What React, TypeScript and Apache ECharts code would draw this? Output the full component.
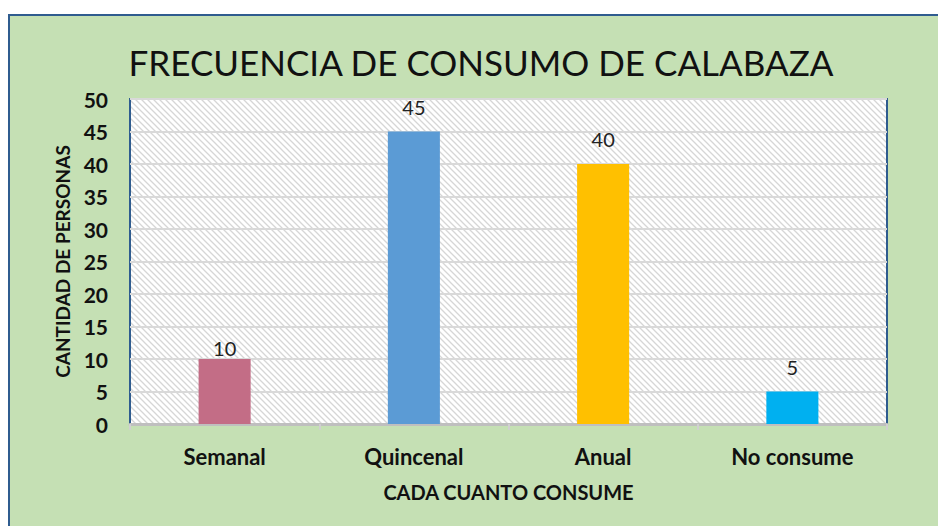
import React, { useEffect, useRef } from "react";
import * as echarts from "echarts";

const categories = ["Semanal", "Quincenal", "Anual", "No consume"];
const values = [10, 45, 40, 5];
const barColors = ["#C36D86", "#5B9BD5", "#FFC000", "#00B0F0"];
const yTicks = { min: 0, max: 50, interval: 5 };
const titleText = "FRECUENCIA DE CONSUMO DE CALABAZA";
const xName = "CADA CUANTO CONSUME";
const yName = "CANTIDAD DE PERSONAS";

const hatchSvg =
  "<svg xmlns='http://www.w3.org/2000/svg' width='6' height='6'>" +
  "<rect width='6' height='6' fill='#ffffff'/>" +
  "<path d='M0 0L6 6M-1 5L1 7M5 -1L7 1' stroke='#d6d6d6' stroke-width='1.3'/>" +
  "</svg>";
const hatchUrl = "data:image/svg+xml;charset=utf-8," + encodeURIComponent(hatchSvg);

export default function App() {
  const ref = useRef<HTMLDivElement>(null);
  useEffect(() => {
    if (!ref.current) return;
    const chart = echarts.init(ref.current, undefined, { renderer: "svg" });
    const font = "Lato, 'Open Sans', sans-serif";
    chart.setOption({
      animation: false,
      backgroundColor: "#ffffff",
      graphic: [
        {
          type: "rect",
          z: -10,
          silent: true,
          shape: { x: 9, y: 15, width: 960, height: 540 },
          style: { fill: "#C5E0B4", stroke: "#2F5C8F", lineWidth: 2 },
        },
        {
          type: "text",
          x: 481,
          y: 62,
          style: {
            text: titleText,
            fontFamily: font,
            fontSize: 35,
            fill: "#111111",
            align: "center",
            verticalAlign: "middle",
          },
        },
      ],
      grid: {
        left: 130,
        right: 51,
        top: 99,
        bottom: 102,
        show: true,
        backgroundColor: { image: hatchUrl, repeat: "repeat" },
        borderColor: "#2F5C8F",
        borderWidth: 2,
      },
      xAxis: {
        type: "category",
        data: categories,
        name: xName,
        nameLocation: "middle",
        nameGap: 58,
        nameTextStyle: { fontFamily: font, fontWeight: "bold", fontSize: 20, color: "#111" },
        axisLine: { show: true, lineStyle: { color: "#BFBFBF", width: 3 } },
        axisTick: { show: true, length: 6, lineStyle: { color: "#D0D0D0", width: 2 } },
        axisLabel: { margin: 21, fontFamily: font, fontWeight: "bold", fontSize: 22, color: "#111" },
      },
      yAxis: {
        type: "value",
        min: yTicks.min,
        max: yTicks.max,
        interval: yTicks.interval,
        name: yName,
        nameLocation: "middle",
        nameGap: 58,
        nameTextStyle: { fontFamily: font, fontWeight: "bold", fontSize: 19, color: "#111" },
        axisLine: { show: false },
        axisTick: { show: false },
        axisLabel: { margin: 22, fontFamily: font, fontWeight: "bold", fontSize: 21, color: "#111" },
        splitLine: { show: true, lineStyle: { color: "#D9D9D9", width: 2 } },
      },
      series: [
        {
          type: "bar",
          barWidth: "27.5%",
          data: values.map((v, i) => ({
            value: v,
            itemStyle: { color: barColors[i] },
            label: i === 0 ? { distance: 1 } : undefined,
          })),
          label: {
            show: true,
            position: "top",
            distance: 15,
            fontFamily: font,
            fontSize: 20,
            color: "#222",
          },
        },
      ],
    });
    return () => chart.dispose();
  }, []);
  return (
    <div
      ref={ref}
      style={{ position: "absolute", left: 0, top: 0, width: 938, height: 526 }}
    />
  );
}
